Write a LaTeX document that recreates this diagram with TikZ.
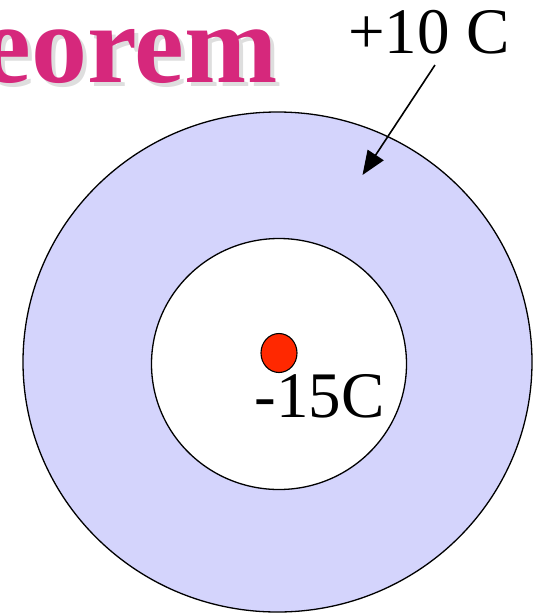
\documentclass[tikz,border=0pt]{standalone}
\usepackage{fontspec}
\setmainfont{Liberation Serif}
\usetikzlibrary{arrows.meta,shapes.geometric}
\definecolor{shellblue}{RGB}{212,212,252}
\definecolor{chargered}{RGB}{255,40,0}
\definecolor{titlemag}{RGB}{214,40,124}
\definecolor{shadowgrey}{RGB}{222,222,222}
\begin{document}
\begin{tikzpicture}[x=1pt,y=-1pt,
  shell/.style={draw=black,line width=1.3pt},
  lbl/.style={inner sep=0pt,font=\fontsize{65}{65}\selectfont},
  ttl/.style={inner sep=0pt,font=\fontsize{112}{112}\selectfont\bfseries},
  pointer/.style={line width=1.6pt,-{Triangle[length=24pt,width=19pt]}}]
\useasboundingbox (0,0) rectangle (535,614);
% title with shadow
\node[ttl,text=shadowgrey,anchor=base east] (titleshadow) at (282,86) {eorem};
\node[ttl,text=titlemag,anchor=base east] (title) at (278,82) {eorem};
% outer shell
\draw[shell,fill=shellblue] (277.5,362) ellipse [x radius=254.5, y radius=250];
% inner cavity
\draw[shell,fill=white] (279,364) ellipse [x radius=127.5, y radius=125.5];
% point charge
\node[draw=black,line width=1.1pt,fill=chargered,ellipse,minimum width=36pt,minimum height=39pt,inner sep=0pt] (charge) at (279,353) {};
% labels
\node[lbl,anchor=base west] (qin) at (254.5,417) {-15C};
\node[lbl,anchor=base west] (qout) at (348,53) {+10 C};
% arrow
\coordinate (tail) at (435,65);
\coordinate (tip) at (362.5,175);
\draw[pointer] (tail) -- (tip);
\end{tikzpicture}
\end{document}
